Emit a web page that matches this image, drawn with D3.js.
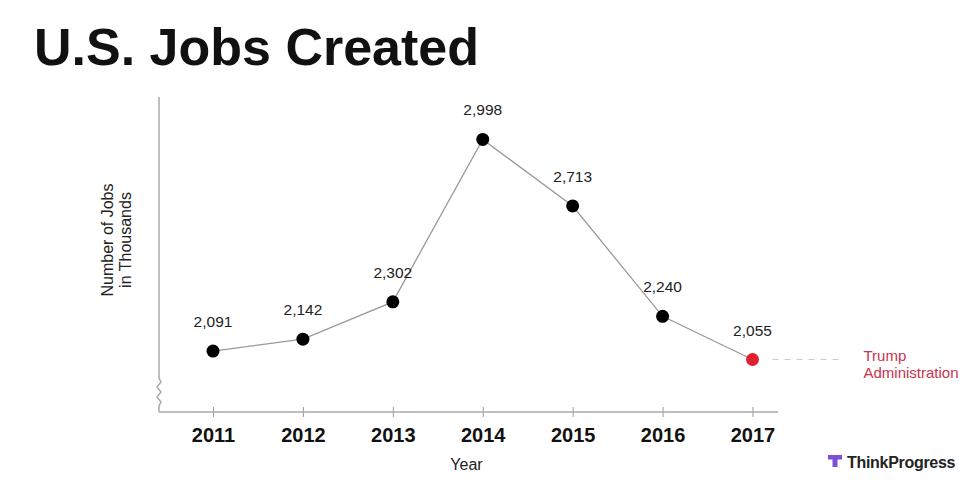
<!DOCTYPE html>
<html>
<head>
<meta charset="utf-8">
<script src="https://cdn.jsdelivr.net/npm/d3@7/dist/d3.min.js"></script>
<style>
  body { margin: 0; background: #fff; }
  svg { display: block; font-family: "Liberation Sans", Arial, sans-serif; }
</style>
</head>
<body>
<div id="chart"></div>
<script>
// data (thousands of jobs)
const years = [2011, 2012, 2013, 2014, 2015, 2016, 2017];
const jobs = [2091, 2142, 2302, 2998, 2713, 2240, 2055];
const trumpYear = 2017;
const yDomain = [1830, 3180];

const width = 980, height = 490;
const svg = d3.select('#chart').append('svg')
  .attr('width', width)
  .attr('height', height)
  .attr('viewBox', [0, 0, width, height]);

const axisX0 = 159, axisX1 = 778, axisY = 412, axisTop = 97;

const x = d3.scaleLinear().domain([2011, 2017]).range([213, 752.5]);
const y = d3.scaleLinear().domain(yDomain).range([axisY, axisTop]);

const points = years.map((yr, i) => ({ year: yr, value: jobs[i] }));

// title
svg.append('text')
  .attr('x', 34)
  .attr('y', 65)
  .attr('font-size', 52)
  .attr('font-weight', 'bold')
  .attr('fill', '#111')
  .text('U.S. Jobs Created');

// x axis
const xAxis = d3.axisBottom(x)
  .tickValues(years)
  .tickFormat(d3.format('d'))
  .tickSize(5)
  .tickPadding(14);

const gx = svg.append('g')
  .attr('transform', `translate(0,${axisY})`)
  .call(xAxis);
gx.select('.domain').remove();
gx.selectAll('.tick line')
  .attr('y1', -5)
  .attr('y2', 5)
  .attr('stroke', '#999')
  .attr('stroke-width', 1);
gx.selectAll('.tick text')
  .attr('y', 30)
  .attr('dy', 0)
  .attr('font-size', 20)
  .attr('font-weight', 'bold')
  .attr('font-family', '"Liberation Sans", Arial, sans-serif')
  .attr('fill', '#111');

svg.append('line')
  .attr('x1', axisX0).attr('x2', axisX1)
  .attr('y1', axisY).attr('y2', axisY)
  .attr('stroke', '#aaa')
  .attr('stroke-width', 1.5);

// y axis with a break near the bottom
svg.append('path')
  .attr('d', `M${axisX0},${axisTop}V378 l2,4 l-4,5 l4,5 l-4,5 l4,5 l-2,4 V${axisY}`)
  .attr('fill', 'none')
  .attr('stroke', '#aaa')
  .attr('stroke-width', 1.5);

// axis titles
svg.append('text')
  .attr('x', (axisX0 + axisX1) / 2 - 2)
  .attr('y', 470)
  .attr('text-anchor', 'middle')
  .attr('font-size', 16)
  .attr('fill', '#222')
  .text('Year');

const yTitle = svg.append('text')
  .attr('transform', 'translate(112.5,240) rotate(-90)')
  .attr('text-anchor', 'middle')
  .attr('font-size', 16)
  .attr('fill', '#222');
yTitle.append('tspan').attr('x', 0).attr('dy', 0).text('Number of Jobs');
yTitle.append('tspan').attr('x', 0).attr('dy', 18).text('in Thousands');

// line
const line = d3.line().x(d => x(d.year)).y(d => y(d.value));
svg.append('path')
  .datum(points)
  .attr('d', line)
  .attr('fill', 'none')
  .attr('stroke', '#9a9a9a')
  .attr('stroke-width', 1.3);

// Trump administration marker
const last = points[points.length - 1];
svg.append('line')
  .attr('x1', x(trumpYear) + 20).attr('x2', x(trumpYear) + 92)
  .attr('y1', y(last.value)).attr('y2', y(last.value))
  .attr('stroke', '#ccc')
  .attr('stroke-width', 1.2)
  .attr('stroke-dasharray', '6,6');

const trump = svg.append('text')
  .attr('x', x(trumpYear) + 111)
  .attr('y', y(last.value) + 1)
  .attr('font-size', 15)
  .attr('fill', '#c8344c');
trump.append('tspan').attr('x', x(trumpYear) + 111).text('Trump');
trump.append('tspan').attr('x', x(trumpYear) + 111).attr('dy', 17).text('Administration');

// dots
svg.selectAll('circle.dot')
  .data(points)
  .join('circle')
  .attr('class', 'dot')
  .attr('cx', d => x(d.year))
  .attr('cy', d => y(d.value))
  .attr('r', 6.5)
  .attr('fill', d => d.year === trumpYear ? '#e0202c' : '#000');

// value labels
svg.selectAll('text.val')
  .data(points)
  .join('text')
  .attr('class', 'val')
  .attr('x', d => x(d.year))
  .attr('y', d => y(d.value) - 24)
  .attr('text-anchor', 'middle')
  .attr('font-size', 15.5)
  .attr('fill', '#222')
  .text(d => d3.format(',')(d.value));

// ThinkProgress logo
const logo = svg.append('g').attr('transform', 'translate(828,455)');
logo.append('path')
  .attr('d', 'M0,0 H14 V4.5 H9.5 V12 H4.5 V4.5 H0 Z')
  .attr('fill', '#7c4fd8');
logo.append('text')
  .attr('x', 19)
  .attr('y', 12.5)
  .attr('font-size', 16)
  .attr('font-weight', 'bold')
  .attr('fill', '#222')
  .attr('letter-spacing', -0.3)
  .text('ThinkProgress');
</script>
</body>
</html>
